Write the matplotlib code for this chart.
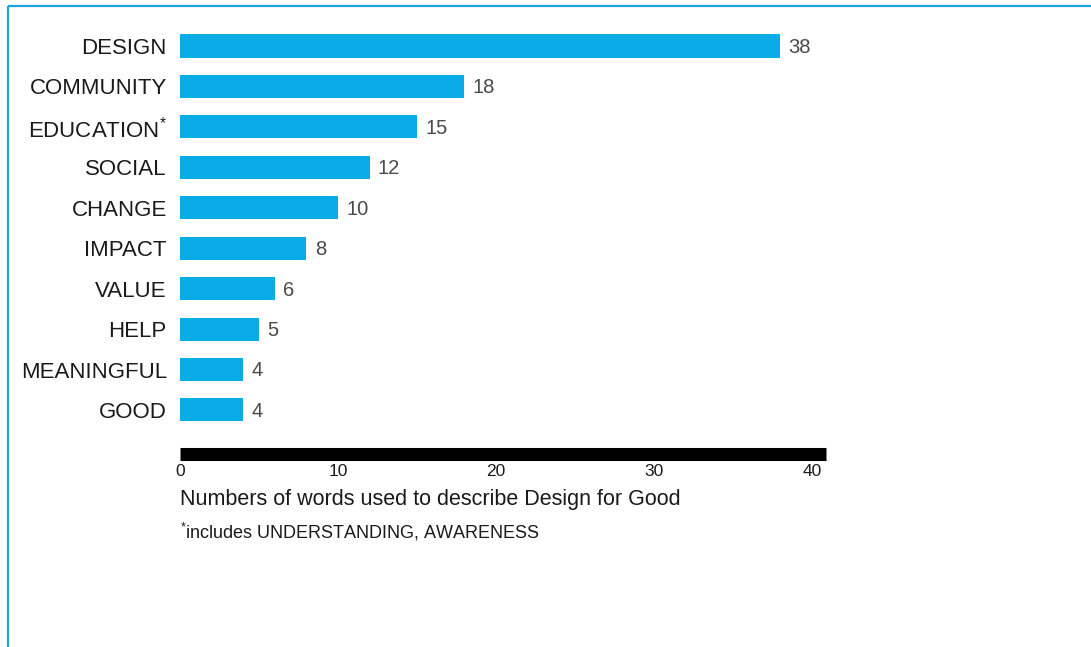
import matplotlib
matplotlib.use("Agg")
import matplotlib.pyplot as plt
from matplotlib.lines import Line2D

plt.rcParams['font.family'] = ['Liberation Sans', 'DejaVu Sans']
plt.rcParams['mathtext.fontset'] = 'custom'
plt.rcParams['mathtext.rm'] = 'Liberation Sans'
plt.rcParams['mathtext.it'] = 'Liberation Sans'
plt.rcParams['mathtext.default'] = 'regular'

# Word counts
categories = ["DESIGN", "COMMUNITY", "EDUCATION*", "SOCIAL", "CHANGE",
              "IMPACT", "VALUE", "HELP", "MEANINGFUL", "GOOD"]
counts = [38, 18, 15, 12, 10, 8, 6, 5, 4, 4]
x_ticks = [0, 10, 20, 30, 40]

BAR_BLUE = "#0AACE8"
W, H = 1091, 647


def raised_star(label):
    """Render a trailing footnote asterisk as a superscript."""
    if label.endswith("*"):
        return label[:-1] + r"$^{*}$"
    return label


fig = plt.figure(figsize=(W / 100, H / 100), dpi=100)
fig.patch.set_facecolor("white")

ax = fig.add_axes([180 / W, 1 - 453.5 / H, 646 / W, (453.5 - 25) / H])
ypos = list(range(len(categories)))
ax.barh(ypos, counts, height=0.57, color=BAR_BLUE, edgecolor="none")

ax.set_xlim(0, 40.9)
ax.set_ylim(10.077, -0.519)

for s in ("top", "right", "left"):
    ax.spines[s].set_visible(False)
ax.spines["bottom"].set_linewidth(9.4)
ax.spines["bottom"].set_color("black")
ax.spines["bottom"].set_capstyle("butt")

ax.set_xticks(x_ticks)
ax.set_xticklabels([str(t) for t in x_ticks])
ax.tick_params(axis="x", length=0, labelsize=12.5, pad=7.5, labelcolor="#1a1a1a")

ax.set_yticks(ypos)
ax.set_yticklabels([raised_star(c) for c in categories])
ax.tick_params(axis="y", length=0, labelsize=16, pad=9.5, labelcolor="#1a1a1a")

for y, v in zip(ypos, counts):
    ax.annotate(str(v), xy=(v, y), xytext=(6, -1), textcoords="offset points",
                ha="left", va="center", fontsize=14.5, color="#4a4a4a")

fig.text(180 / W, 1 - 500 / H, "Numbers of words used to describe Design for Good",
         ha="left", va="center", fontsize=15.5, color="#1a1a1a")
fig.text(180 / W, 1 - 532 / H, r"$^{*}$includes UNDERSTANDING, AWARENESS",
         ha="left", va="center", fontsize=13, color="#1a1a1a")

# frame lines along the top and left edges
border = "#1FA3DC"
fig.add_artist(Line2D([8 / W, 1], [1 - 6 / H, 1 - 6 / H], transform=fig.transFigure,
                      color=border, linewidth=1.6, solid_capstyle="butt"))
fig.add_artist(Line2D([8 / W, 8 / W], [0, 1 - 6 / H], transform=fig.transFigure,
                      color=border, linewidth=1.6, solid_capstyle="butt"))

fig.savefig("out.png", dpi=100, facecolor="white")
